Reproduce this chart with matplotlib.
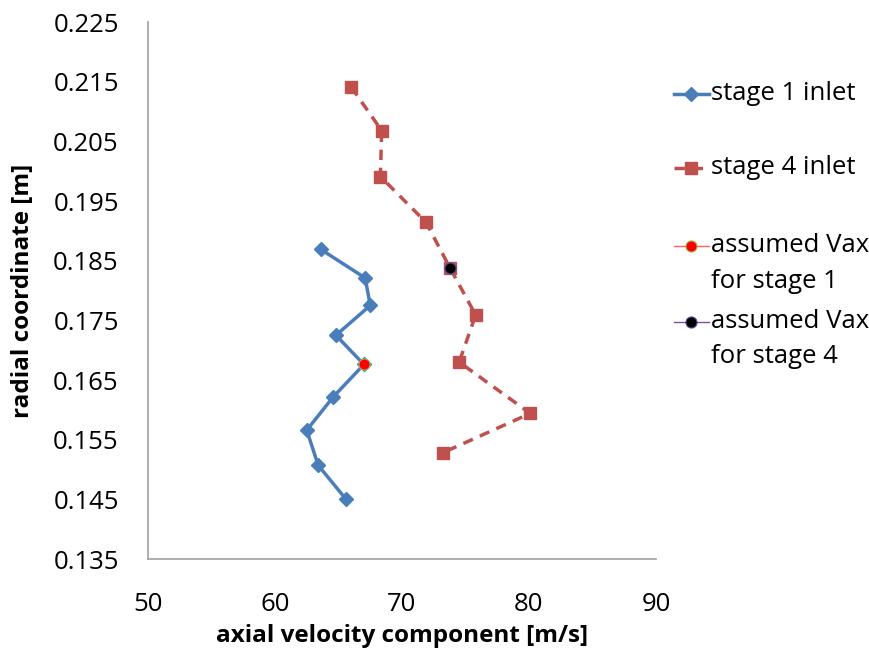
import numpy as np
import matplotlib
matplotlib.use("Agg")
import matplotlib.pyplot as plt
from matplotlib.lines import Line2D

plt.rcParams['font.family'] = ['Open Sans', 'DejaVu Sans']

# stage 1 inlet
v1 = [63.6, 67.1, 67.5, 64.8, 67.0, 64.6, 62.5, 63.4, 65.6]
r1 = [0.1869, 0.1821, 0.1775, 0.1725, 0.1676, 0.1622, 0.1566, 0.1507, 0.1450]

# stage 4 inlet
v4 = [66.0, 68.4, 68.3, 71.9, 73.8, 75.8, 74.5, 80.1, 73.2]
r4 = [0.2141, 0.2068, 0.1991, 0.1914, 0.1837, 0.1759, 0.1680, 0.1594, 0.1528]

# assumed axial velocity points
va1, ra1 = [67.0], [0.1676]
va4, ra4 = [73.8], [0.1837]

W, H = 870, 653
fig = plt.figure(figsize=(W / 100, H / 100), dpi=100)
ax = fig.add_axes([148 / W, 1 - 559 / H, (656 - 148) / W, (559 - 22) / H])

s1 = dict(color='#4a7ebb', lw=2.5, marker='D', ms=7)
s4 = dict(color='#c0504d', lw=2.5, ls=(0, (3, 2.2)), marker='s', ms=8.5)
sa1 = dict(color='#ff6060', lw=1, marker='o', ms=8, mfc='red', mec='#9bbb59', mew=0.8)
sa4 = dict(color='#7f4fa0', lw=1, marker='o', ms=8, mfc='black', mec='#5050a0', mew=0.8)

ax.plot(v1, r1, **s1)
ax.plot(v4, r4, **s4)
ax.plot(va1, ra1, ls='none', **{k: v for k, v in sa1.items() if k != 'lw'})
ax.plot(va4, ra4, ls='none', **{k: v for k, v in sa4.items() if k != 'lw'})

ax.set_xlim(50, 90)
ax.set_ylim(0.135, 0.225)
ax.set_xticks(np.arange(50, 91, 10))
yt = np.arange(0.135, 0.2251, 0.01)
ax.set_yticks(yt)
ax.set_yticklabels(['%.3f' % t for t in yt])
ax.tick_params(length=0, labelsize=18.5)
ax.tick_params(axis='y', pad=21)
ax.tick_params(axis='x', pad=24)

for s in ['top', 'right']:
    ax.spines[s].set_visible(False)
for s in ['left', 'bottom']:
    ax.spines[s].set_color('#a0a0a0')
    ax.spines[s].set_linewidth(1.2)

ax.set_xlabel('axial velocity component [m/s]', fontsize=17.5, fontweight='bold', labelpad=5)
ax.set_ylabel('radial coordinate [m]', fontsize=17.5, fontweight='bold', labelpad=13)

# legend drawn by hand so the handle sits on the first text line
entries = [
    (s1, ['stage 1 inlet'], 94),
    (s4, ['stage 4 inlet'], 168),
    (sa1, ['assumed Vax', 'for stage 1'], 246),
    (sa4, ['assumed Vax', 'for stage 4'], 322),
]
for style, lines, yp in entries:
    yf = 1 - yp / H
    st = dict(style)
    mk = {k: st.pop(k) for k in ['marker', 'ms', 'mfc', 'mec', 'mew'] if k in st}
    fig.add_artist(Line2D([674 / W, 709 / W], [yf, yf], transform=fig.transFigure, **st))
    fig.add_artist(Line2D([691.5 / W], [yf], transform=fig.transFigure, ls='none',
                          color=st['color'], **mk))
    for i, txt in enumerate(lines):
        fig.text(711 / W, 1 - (yp + 35 * i) / H, txt, fontsize=18.5, va='center', ha='left')

fig.savefig('out.png', dpi=100)
